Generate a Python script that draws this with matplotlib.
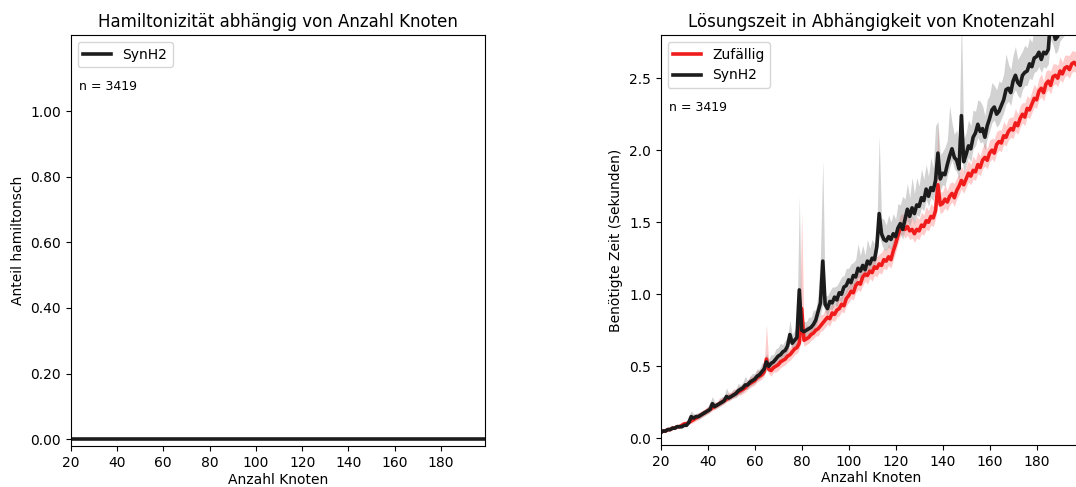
import matplotlib
matplotlib.use('Agg')
import matplotlib.pyplot as plt
import numpy as np

# node counts 20..199
nodes = list(range(20, 200))

# fraction of hamiltonian graphs (SynH2) - zero everywhere
synh2_ham = [0.0] * len(nodes)

# mean solving time in seconds, one value per node count
synh2_time = [
    0.04, 0.05, 0.05, 0.06, 0.06, 0.07, 0.07, 0.08, 0.08, 0.08,
    0.09, 0.09, 0.11, 0.15, 0.14, 0.15, 0.15, 0.16, 0.17, 0.18,
    0.19, 0.20, 0.24, 0.22, 0.23, 0.24, 0.25, 0.26, 0.29, 0.28,
    0.29, 0.30, 0.31, 0.33, 0.34, 0.35, 0.37, 0.37, 0.39, 0.40,
    0.41, 0.43, 0.44, 0.46, 0.48, 0.53, 0.50, 0.52, 0.53, 0.55,
    0.57, 0.58, 0.60, 0.61, 0.64, 0.72, 0.66, 0.68, 0.70, 1.03,
    0.75, 0.74, 0.75, 0.76, 0.77, 0.79, 0.82, 0.88, 0.94, 1.23,
    0.93, 0.90, 0.95, 0.94, 0.98, 0.96, 1.01, 1.00, 1.05, 1.06,
    1.10, 1.08, 1.13, 1.12, 1.18, 1.16, 1.20, 1.17, 1.23, 1.21,
    1.25, 1.24, 1.33, 1.56, 1.42, 1.38, 1.37, 1.40, 1.38, 1.42,
    1.40, 1.46, 1.49, 1.45, 1.52, 1.59, 1.54, 1.60, 1.56, 1.62,
    1.61, 1.67, 1.65, 1.73, 1.68, 1.74, 1.72, 1.79, 1.98, 1.80,
    1.84, 1.83, 1.90, 1.96, 2.01, 1.95, 1.93, 1.87, 2.24, 1.92,
    1.97, 2.03, 2.01, 2.09, 2.12, 2.18, 2.13, 2.15, 2.09, 2.17,
    2.22, 2.28, 2.30, 2.25, 2.27, 2.31, 2.35, 2.42, 2.43, 2.40,
    2.48, 2.52, 2.47, 2.45, 2.52, 2.54, 2.55, 2.60, 2.58, 2.64,
    2.65, 2.68, 2.63, 2.68, 2.67, 2.70, 2.92, 2.83, 2.77, 2.79,
    2.86, 2.88, 2.90, 2.92, 2.93, 2.95, 2.96, 2.98, 3.00, 3.02,
]
synh2_lo = [
    0.01, 0.01, 0.01, 0.01, 0.01, 0.01, 0.01, 0.01, 0.01, 0.01,
    0.01, 0.01, 0.01, 0.02, 0.02, 0.02, 0.02, 0.02, 0.02, 0.02,
    0.02, 0.02, 0.03, 0.02, 0.02, 0.02, 0.02, 0.02, 0.03, 0.02,
    0.02, 0.02, 0.03, 0.03, 0.03, 0.03, 0.03, 0.03, 0.03, 0.03,
    0.03, 0.03, 0.03, 0.03, 0.04, 0.06, 0.04, 0.04, 0.04, 0.04,
    0.04, 0.04, 0.04, 0.04, 0.04, 0.06, 0.04, 0.04, 0.05, 0.25,
    0.04, 0.04, 0.04, 0.04, 0.04, 0.04, 0.05, 0.06, 0.08, 0.30,
    0.05, 0.05, 0.05, 0.05, 0.05, 0.05, 0.05, 0.06, 0.06, 0.06,
    0.06, 0.06, 0.06, 0.06, 0.06, 0.06, 0.06, 0.06, 0.06, 0.06,
    0.06, 0.06, 0.07, 0.15, 0.07, 0.07, 0.07, 0.07, 0.07, 0.07,
    0.07, 0.07, 0.07, 0.07, 0.07, 0.08, 0.07, 0.07, 0.07, 0.07,
    0.07, 0.07, 0.07, 0.07, 0.07, 0.07, 0.07, 0.07, 0.15, 0.08,
    0.08, 0.08, 0.08, 0.08, 0.08, 0.08, 0.08, 0.08, 0.25, 0.08,
    0.08, 0.08, 0.09, 0.08, 0.09, 0.09, 0.08, 0.09, 0.09, 0.09,
    0.09, 0.09, 0.09, 0.09, 0.09, 0.09, 0.09, 0.10, 0.09, 0.09,
    0.09, 0.10, 0.09, 0.09, 0.10, 0.09, 0.10, 0.10, 0.09, 0.10,
    0.10, 0.10, 0.09, 0.10, 0.10, 0.10, 0.15, 0.10, 0.10, 0.10,
    0.10, 0.10, 0.10, 0.10, 0.10, 0.10, 0.10, 0.10, 0.10, 0.10,
]
synh2_hi = [
    0.01, 0.01, 0.01, 0.02, 0.01, 0.02, 0.01, 0.02, 0.01, 0.02,
    0.02, 0.03, 0.05, 0.04, 0.03, 0.02, 0.03, 0.02, 0.03, 0.02,
    0.03, 0.05, 0.05, 0.03, 0.02, 0.03, 0.04, 0.03, 0.06, 0.03,
    0.03, 0.04, 0.03, 0.05, 0.03, 0.04, 0.06, 0.03, 0.04, 0.05,
    0.04, 0.05, 0.04, 0.06, 0.05, 0.06, 0.05, 0.06, 0.05, 0.07,
    0.06, 0.08, 0.05, 0.07, 0.06, 0.10, 0.06, 0.07, 0.08, 0.65,
    0.06, 0.07, 0.06, 0.08, 0.07, 0.10, 0.07, 0.12, 0.33, 0.70,
    0.06, 0.09, 0.07, 0.11, 0.07, 0.10, 0.08, 0.12, 0.08, 0.12,
    0.08, 0.13, 0.09, 0.12, 0.17, 0.11, 0.14, 0.10, 0.15, 0.11,
    0.13, 0.11, 0.12, 0.54, 0.11, 0.14, 0.11, 0.15, 0.12, 0.14,
    0.12, 0.17, 0.13, 0.23, 0.14, 0.18, 0.13, 0.21, 0.14, 0.19,
    0.14, 0.20, 0.15, 0.17, 0.14, 0.21, 0.16, 0.38, 0.22, 0.17,
    0.15, 0.19, 0.17, 0.35, 0.18, 0.16, 0.21, 0.18, 0.70, 0.16,
    0.15, 0.18, 0.16, 0.19, 0.15, 0.17, 0.21, 0.16, 0.15, 0.18,
    0.16, 0.19, 0.15, 0.17, 0.21, 0.16, 0.18, 0.25, 0.17, 0.16,
    0.18, 0.20, 0.16, 0.21, 0.17, 0.19, 0.16, 0.18, 0.17, 0.21,
    0.23, 0.18, 0.17, 0.19, 0.18, 0.20, 0.17, 0.18, 0.16, 0.19,
    0.17, 0.18, 0.16, 0.17, 0.18, 0.17, 0.16, 0.17, 0.18, 0.17,
]

random_time = [
    0.04, 0.05, 0.05, 0.06, 0.06, 0.07, 0.07, 0.08, 0.08, 0.09,
    0.10, 0.10, 0.11, 0.12, 0.13, 0.14, 0.15, 0.16, 0.17, 0.18,
    0.19, 0.20, 0.21, 0.22, 0.23, 0.24, 0.25, 0.26, 0.27, 0.28,
    0.29, 0.30, 0.31, 0.32, 0.33, 0.34, 0.35, 0.37, 0.38, 0.39,
    0.40, 0.42, 0.43, 0.44, 0.46, 0.55, 0.48, 0.47, 0.49, 0.50,
    0.51, 0.53, 0.54, 0.55, 0.57, 0.58, 0.60, 0.62, 0.63, 0.66,
    0.90, 0.68, 0.69, 0.70, 0.72, 0.73, 0.75, 0.76, 0.78, 0.80,
    0.82, 0.84, 0.83, 0.87, 0.86, 0.89, 0.90, 0.93, 0.92, 0.97,
    0.99, 1.02, 1.01, 1.06, 1.08, 1.07, 1.12, 1.14, 1.13, 1.16,
    1.15, 1.19, 1.18, 1.21, 1.20, 1.24, 1.23, 1.26, 1.24, 1.30,
    1.35, 1.41, 1.46, 1.48, 1.45, 1.47, 1.44, 1.45, 1.42, 1.45,
    1.44, 1.48, 1.47, 1.51, 1.50, 1.54, 1.53, 1.58, 1.76, 1.62,
    1.63, 1.66, 1.64, 1.68, 1.70, 1.67, 1.72, 1.75, 1.79, 1.76,
    1.80, 1.84, 1.82, 1.86, 1.85, 1.90, 1.88, 1.93, 1.95, 1.93,
    1.98, 2.00, 1.98, 2.04, 2.06, 2.05, 2.10, 2.09, 2.13, 2.15,
    2.14, 2.19, 2.17, 2.22, 2.25, 2.23, 2.29, 2.28, 2.32, 2.36,
    2.35, 2.41, 2.43, 2.40, 2.46, 2.48, 2.45, 2.51, 2.52, 2.50,
    2.55, 2.53, 2.57, 2.58, 2.56, 2.60, 2.61, 2.59, 2.63, 2.62,
]
random_lo = [
    0.01, 0.01, 0.01, 0.01, 0.01, 0.01, 0.01, 0.01, 0.01, 0.01,
    0.01, 0.01, 0.01, 0.02, 0.02, 0.02, 0.02, 0.02, 0.02, 0.02,
    0.02, 0.02, 0.02, 0.02, 0.02, 0.02, 0.02, 0.02, 0.02, 0.02,
    0.02, 0.02, 0.02, 0.02, 0.03, 0.03, 0.03, 0.03, 0.03, 0.03,
    0.03, 0.03, 0.03, 0.03, 0.03, 0.06, 0.03, 0.04, 0.03, 0.04,
    0.04, 0.04, 0.04, 0.04, 0.04, 0.04, 0.04, 0.04, 0.04, 0.04,
    0.20, 0.04, 0.04, 0.04, 0.04, 0.04, 0.04, 0.05, 0.04, 0.05,
    0.05, 0.05, 0.05, 0.05, 0.05, 0.05, 0.05, 0.05, 0.05, 0.05,
    0.05, 0.05, 0.05, 0.05, 0.05, 0.05, 0.06, 0.05, 0.06, 0.05,
    0.06, 0.06, 0.06, 0.06, 0.06, 0.06, 0.06, 0.06, 0.06, 0.06,
    0.06, 0.06, 0.06, 0.06, 0.06, 0.06, 0.06, 0.06, 0.06, 0.06,
    0.06, 0.06, 0.06, 0.06, 0.06, 0.06, 0.06, 0.06, 0.12, 0.06,
    0.06, 0.06, 0.06, 0.06, 0.06, 0.06, 0.06, 0.06, 0.06, 0.06,
    0.06, 0.06, 0.06, 0.06, 0.06, 0.06, 0.06, 0.06, 0.06, 0.06,
    0.06, 0.06, 0.06, 0.06, 0.06, 0.06, 0.06, 0.06, 0.06, 0.06,
    0.06, 0.06, 0.06, 0.06, 0.06, 0.06, 0.06, 0.06, 0.06, 0.06,
    0.06, 0.06, 0.06, 0.06, 0.06, 0.06, 0.06, 0.06, 0.06, 0.06,
    0.06, 0.06, 0.06, 0.06, 0.06, 0.06, 0.06, 0.06, 0.06, 0.06,
]
random_hi = [
    0.01, 0.01, 0.01, 0.01, 0.02, 0.01, 0.02, 0.01, 0.02, 0.01,
    0.02, 0.02, 0.03, 0.02, 0.02, 0.03, 0.02, 0.03, 0.02, 0.03,
    0.03, 0.02, 0.03, 0.03, 0.02, 0.04, 0.03, 0.03, 0.03, 0.04,
    0.03, 0.04, 0.03, 0.04, 0.03, 0.04, 0.04, 0.03, 0.05, 0.04,
    0.04, 0.05, 0.04, 0.05, 0.04, 0.24, 0.05, 0.06, 0.04, 0.05,
    0.05, 0.06, 0.05, 0.05, 0.06, 0.05, 0.06, 0.05, 0.06, 0.08,
    0.67, 0.08, 0.10, 0.06, 0.07, 0.06, 0.07, 0.06, 0.08, 0.06,
    0.07, 0.06, 0.08, 0.07, 0.06, 0.08, 0.07, 0.06, 0.08, 0.07,
    0.07, 0.08, 0.07, 0.09, 0.07, 0.08, 0.07, 0.09, 0.07, 0.08,
    0.07, 0.09, 0.08, 0.07, 0.09, 0.08, 0.07, 0.09, 0.08, 0.10,
    0.09, 0.08, 0.09, 0.08, 0.09, 0.10, 0.08, 0.09, 0.08, 0.09,
    0.08, 0.09, 0.08, 0.10, 0.08, 0.09, 0.08, 0.10, 0.42, 0.09,
    0.08, 0.10, 0.08, 0.09, 0.08, 0.10, 0.09, 0.08, 0.10, 0.09,
    0.08, 0.09, 0.08, 0.10, 0.08, 0.09, 0.08, 0.09, 0.10, 0.08,
    0.09, 0.08, 0.10, 0.09, 0.08, 0.09, 0.10, 0.08, 0.09, 0.08,
    0.09, 0.10, 0.08, 0.09, 0.08, 0.10, 0.09, 0.08, 0.09, 0.10,
    0.08, 0.09, 0.10, 0.08, 0.09, 0.08, 0.10, 0.09, 0.08, 0.09,
    0.10, 0.08, 0.09, 0.08, 0.10, 0.09, 0.08, 0.09, 0.08, 0.09,
]

n_graphs = 3419

BLACK = "#1c1c1c"
RED = "#f01c1c"

x = np.array(nodes)

fig = plt.figure(figsize=(10.76, 4.87), dpi=100)
ax1 = fig.add_axes([70.7 / 1076, 41 / 487, 414.3 / 1076, 411 / 487])
ax2 = fig.add_axes([660.7 / 1076, 42 / 487, 420.5 / 1076, 410 / 487])

# left: hamiltonicity
ax1.plot(x, synh2_ham, color=BLACK, lw=2.6, label="SynH2")
ax1.set_xlim(20, 199)
ax1.set_ylim(-0.021, 1.232)
ax1.set_xticks(range(20, 200, 20))
ax1.set_yticks([0.0, 0.2, 0.4, 0.6, 0.8, 1.0])
ax1.yaxis.set_major_formatter(matplotlib.ticker.FormatStrFormatter("%.2f"))
ax1.set_title("Hamiltonizität abhängig von Anzahl Knoten")
ax1.set_xlabel("Anzahl Knoten", labelpad=2)
ax1.set_ylabel("Anteil hamiltonsch")
ax1.legend(loc="upper left")
ax1.text(0.02, 0.875, f"n = {n_graphs}", transform=ax1.transAxes, fontsize=9, va="center")

# right: solving time
rt = np.array(random_time)
st = np.array(synh2_time)
ax2.fill_between(x, rt - np.array(random_lo), rt + np.array(random_hi),
                 color="red", alpha=0.2, lw=0)
ax2.fill_between(x, st - np.array(synh2_lo), st + np.array(synh2_hi),
                 color="gray", alpha=0.35, lw=0)
ax2.plot(x, rt, color=RED, lw=2.6, label="Zufällig")
ax2.plot(x, st, color=BLACK, lw=2.6, label="SynH2")
ax2.set_xlim(20, 199)
ax2.set_ylim(-0.047, 2.8)
ax2.set_xticks(range(20, 200, 20))
ax2.set_yticks([0.0, 0.5, 1.0, 1.5, 2.0, 2.5])
ax2.set_title("Lösungszeit in Abhängigkeit von Knotenzahl")
ax2.set_xlabel("Anzahl Knoten", labelpad=2)
ax2.set_ylabel("Benötigte Zeit (Sekunden)")
ax2.legend(loc="upper left")
ax2.text(0.02, 0.824, f"n = {n_graphs}", transform=ax2.transAxes, fontsize=9, va="center")

fig.savefig("out.png", dpi=100)
